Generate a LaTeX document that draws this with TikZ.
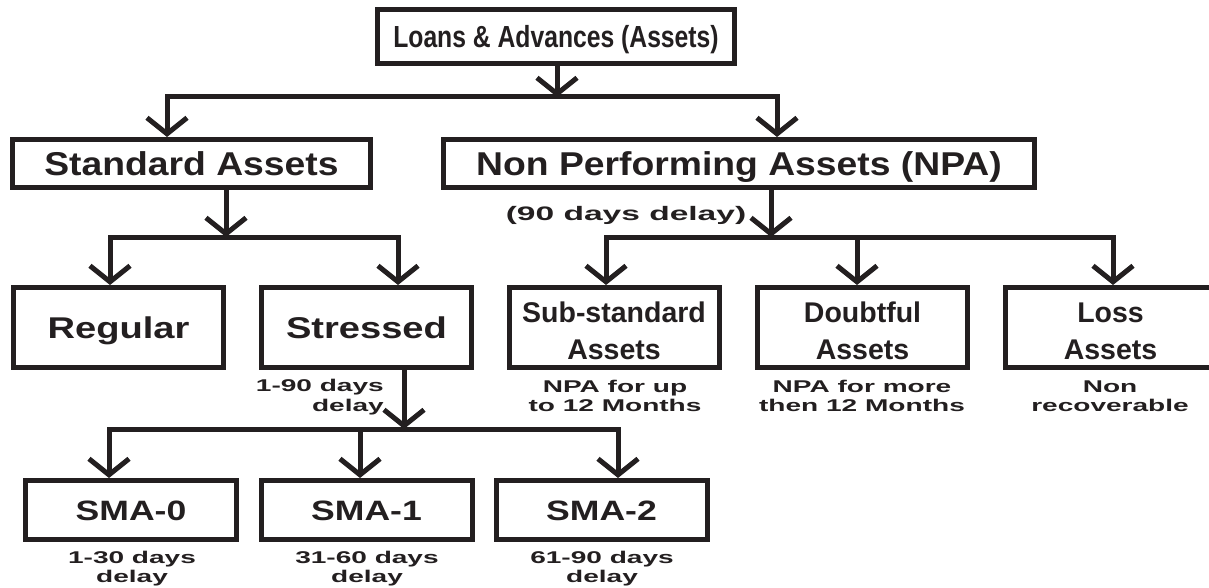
\documentclass[tikz,border=0pt]{standalone}
\usepackage{fontspec}
\setmainfont{Liberation Sans}
\newfontfamily\fA[FakeStretch=1.13]{Liberation Sans}
\newfontfamily\fB[FakeStretch=1.27]{Liberation Sans}
\newfontfamily\fN[FakeStretch=0.81]{Liberation Sans}
\newfontfamily\fS[FakeStretch=1.65]{Liberation Sans}
\newfontfamily\fD[FakeStretch=1.72]{Liberation Sans}
\usetikzlibrary{arrows.meta}
\definecolor{ink}{HTML}{231F20}
\begin{document}
\begin{tikzpicture}[x=1pt,y=-1pt,
  box/.style={draw=ink, line width=5pt, inner sep=0pt, fill=white, align=center, text=ink},
  bigbox/.style={box, minimum width=#1, minimum height=48pt, font=\fA\bfseries\fontsize{33}{38}\selectfont, text height=23.6pt, text depth=0pt},
  midbox/.style={box, minimum width=210pt, minimum height=80pt, font=\fB\bfseries\fontsize{30}{36}\selectfont, text height=21.5pt, text depth=0pt},
  twobox/.style={box, minimum width=210pt, minimum height=80pt, font=\bfseries\fontsize{28.5}{37}\selectfont, text height=63pt, text depth=0pt},
  smabox/.style={box, minimum width=211pt, minimum height=59pt, font=\fB\bfseries\fontsize{28}{34}\selectfont, text height=20pt, text depth=0pt},
  note/.style={inner sep=0pt, align=center, text=ink, font=\fS\bfseries\fontsize{17}{19.5}\selectfont, text height=31.7pt, text depth=0pt, anchor=north},
  link/.style={draw=ink, line width=5pt, line join=miter},
  arr/.style={link, -{Straight Barb[length=16pt,width=40pt]}},
  barbs/.style={link, {Straight Barb[length=16pt,width=40pt]}-{Straight Barb[length=16pt,width=40pt]}}]
\fill[white] (0,0) rectangle (1209,588);
\useasboundingbox (0,0) rectangle (1209,588);

% boxes
\node[box, minimum width=357pt, minimum height=54pt, font=\fN\bfseries\fontsize{30.5}{36}\selectfont, text height=21.8pt, text depth=0pt] (loans) at (556,36.5) {Loans \& Advances (Assets)};
\node[bigbox=358pt] (std) at (191.5,163.5) {Standard Assets};
\node[bigbox=591pt] (npa) at (739,163.5) {Non Performing Assets (NPA)};
\node[midbox] (regular) at (118.5,327.5) {Regular};
\node[midbox] (stressed) at (366.5,327.5) {Stressed};
\node[twobox] (sub) at (614,327.5) {Sub-standard\\Assets};
\node[twobox] (doubt) at (862.5,327.5) {Doubtful\\Assets};
\node[twobox] (loss) at (1110.5,327.5) {Loss\\Assets};
\node[smabox] (sma0) at (131,510) {SMA-0};
\node[smabox] (sma1) at (366.5,510) {SMA-1};
\node[smabox] (sma2) at (601.5,510) {SMA-2};

% notes
\node[note, font=\fD\bfseries\fontsize{19.5}{22}\selectfont, text height=14pt] (n90) at (626,206) {(90 days delay)};
\node[note, anchor=north east, align=right] (n190) at (384,379.5) {1-90 days\\delay};
\node[note] (nsub) at (615,380) {NPA for up\\to 12 Months};
\node[note] (ndoubt) at (862,380) {NPA for more\\then 12 Months};
\node[note] (nloss) at (1110,380) {Non\\recoverable};
\node[note] (nsma0) at (132,551) {1-30 days\\delay};
\node[note] (nsma1) at (367,551) {31-60 days\\delay};
\node[note] (nsma2) at (602,551) {61-90 days\\delay};

% level 1
\coordinate (t0) at (557,97);
\coordinate (tL) at (167,97);
\coordinate (tR) at (777,97);
\draw[arr] (loans.south -| t0) -- (t0);
\draw[barbs] (tL |- std.north) -- (tL) -- (tR) -- (tR |- npa.north);

% level 2 standard
\coordinate (s0) at (226,237);
\coordinate (sL) at (110,237);
\coordinate (sR) at (398,237);
\draw[arr] (std.south -| s0) -- (s0);
\draw[barbs] (sL |- regular.north) -- (sL) -- (sR) -- (sR |- stressed.north);

% level 2 npa
\coordinate (n0) at (771,237);
\coordinate (nL) at (606,237);
\coordinate (nM) at (857,237);
\coordinate (nR) at (1113,237);
\draw[arr] (npa.south -| n0) -- (n0);
\draw[barbs] (nL |- sub.north) -- (nL) -- (nR) -- (nR |- loss.north);
\draw[arr] (nM) -- (nM |- doubt.north);

% level 3 stressed
\coordinate (r0) at (404,429);
\coordinate (rL) at (109,429);
\coordinate (rM) at (360,429);
\coordinate (rR) at (618,429);
\draw[arr] (stressed.south -| r0) -- (r0);
\draw[barbs] (rL |- sma0.north) -- (rL) -- (rR) -- (rR |- sma2.north);
\draw[arr] (rM) -- (rM |- sma1.north);
\end{tikzpicture}
\end{document}
